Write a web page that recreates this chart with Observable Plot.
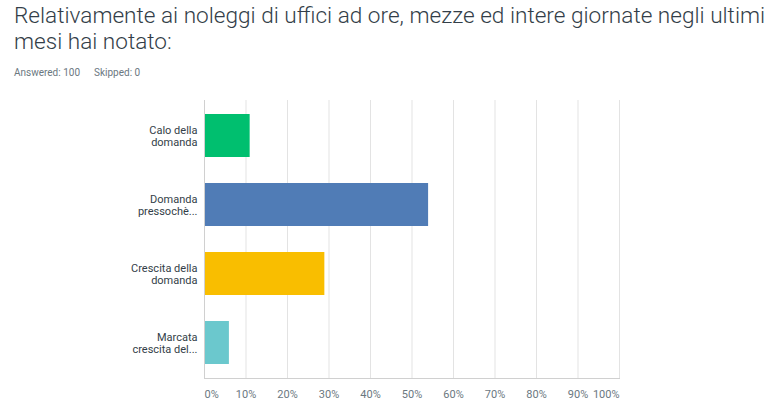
<!DOCTYPE html>
<html><head><meta charset="utf-8">
<script src="https://cdn.jsdelivr.net/npm/d3@7"></script>
<script src="https://cdn.jsdelivr.net/npm/@observablehq/plot@0.6"></script>
<style>
body{margin:0;background:#fff;font-family:Roboto,"Open Sans",sans-serif;}
#hdr{height:90px;position:relative;}
#title{position:absolute;left:14px;top:3px;font-size:22.6px;font-weight:300;color:#333e48;line-height:26px;}
#meta{position:absolute;left:14px;top:67px;font-size:10px;color:#6b787f;}
#meta span{margin-right:14px;}
</style></head><body>
<div id="hdr">
<div id="title">Relativamente ai noleggi di uffici ad ore, mezze ed intere giornate negli ultimi<br>mesi hai notato:</div>
<div id="meta"><span>Answered: 100</span><span>Skipped: 0</span></div>
</div>
<div id="chart"></div>
<script>
const categories = ["Calo della\ndomanda", "Domanda\npressochè...", "Crescita della\ndomanda", "Marcata\ncrescita del..."];
const values = [11, 54, 29, 6];
const colors = ["#00BF6F", "#507CB6", "#F9BE00", "#6BC8CD"];
const xTicks = [0,10,20,30,40,50,60,70,80,90,100];

const data = categories.map((c,i)=>({cat:c, value:values[i], color:colors[i]}));
const axisOpts = {tickFormat: d => d + "%", tickSize: 0, tickPadding: 12, fontSize: 11, color: "#6b787f", anchor: "bottom", label: null};

const chart = Plot.plot({
  width: 780, height: 327,
  marginTop: 10, marginBottom: 39, marginLeft: 204, marginRight: 161,
  style: {fontFamily: "Roboto, sans-serif", background: "#fff"},
  x: {domain: [0,100]},
  y: {domain: categories, paddingInner: 0.38, paddingOuter: 0.19},
  marks: [
    Plot.gridX(xTicks, {stroke: "#e3e3e3", strokeOpacity: 1}),
    Plot.barX(data, {y: "cat", x: "value", fill: "color"}),
    Plot.ruleX([0], {stroke: "#d0d0d0"}),
    Plot.axisX({...axisOpts, ticks: xTicks.slice(1, -1)}),
    Plot.axisX({...axisOpts, ticks: [xTicks[0]], textAnchor: "start"}),
    Plot.axisX({...axisOpts, ticks: [xTicks[xTicks.length-1]], textAnchor: "end"}),
    Plot.axisY({tickSize: 0, tickPadding: 7, fontSize: 11, color: "#333e48", lineHeight: 1.1, label: null, textAnchor: "end"}),
    Plot.frame({anchor: "bottom", stroke: "#d0d0d0"})
  ]
});
document.getElementById("chart").appendChild(chart);
</script>
</body></html>
